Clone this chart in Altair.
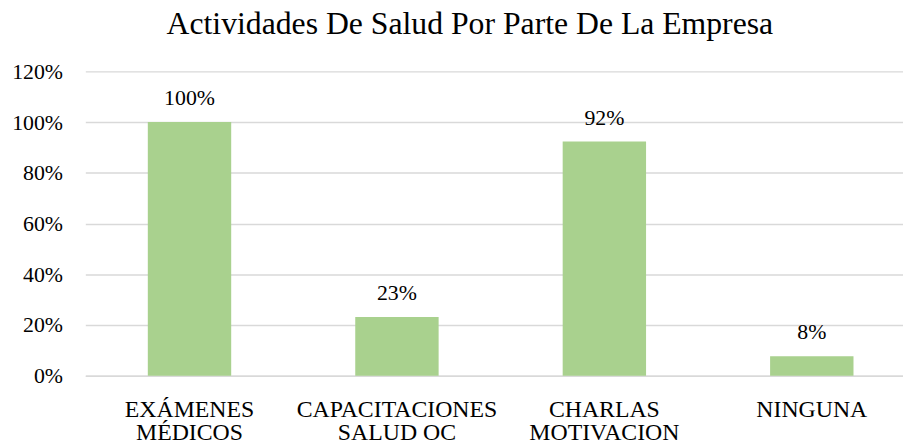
import altair as alt
import pandas as pd

categories = ["EXÁMENES|MÉDICOS", "CAPACITACIONES|SALUD OC", "CHARLAS|MOTIVACION", "NINGUNA"]
values = [1.0, 0.231, 0.923, 0.077]

df = pd.DataFrame({"cat": categories, "val": values})
FONT = "'Liberation Serif', 'Times New Roman', serif"

base = alt.Chart(df).encode(
    x=alt.X("cat:N", sort=categories, title=None,
            scale=alt.Scale(paddingInner=0.598, paddingOuter=0.27, align=0.558),
            axis=alt.Axis(labelAngle=0, labelExpr="split(datum.label, '|')",
                          labelFont=FONT, labelFontSize=24, labelColor="#000000",
                          labelLineHeight=23.5, labelPadding=22, ticks=False, labelLimit=400,
                          domain=True, domainColor="#D9D9D9", domainWidth=1.5,
                          grid=False)),
    y=alt.Y("val:Q", title=None,
            scale=alt.Scale(domain=[0, 1.2]),
            axis=alt.Axis(values=[0, 0.2, 0.4, 0.6, 0.8, 1.0, 1.2], format=".0%",
                          labelFont=FONT, labelFontSize=22, labelColor="#000000",
                          labelPadding=23, ticks=False, domain=False,
                          gridColor="#D9D9D9", gridWidth=1.5)),
)

bars = base.mark_bar(color="#A9D18E")
labels = base.mark_text(baseline="alphabetic", dy=-17, font=FONT, fontSize=22, color="#000000").encode(
    text=alt.Text("val:Q", format=".0%")
)

chart = (bars + labels).properties(
    width=825, height=307,
    autosize=alt.AutoSizeParams(type="none"),
    padding={"left": 78, "top": 62, "right": 0, "bottom": 67},
    title=alt.Title("Actividades De Salud Por Parte De La Empresa",
                    font=FONT, fontSize=32, fontWeight="normal", color="#000000",
                    anchor="middle", dx=-24.5, offset=20),
).configure(font=FONT).configure_view(stroke=None)

chart.save("out.html", embed_options={"renderer": "svg", "actions": False})
